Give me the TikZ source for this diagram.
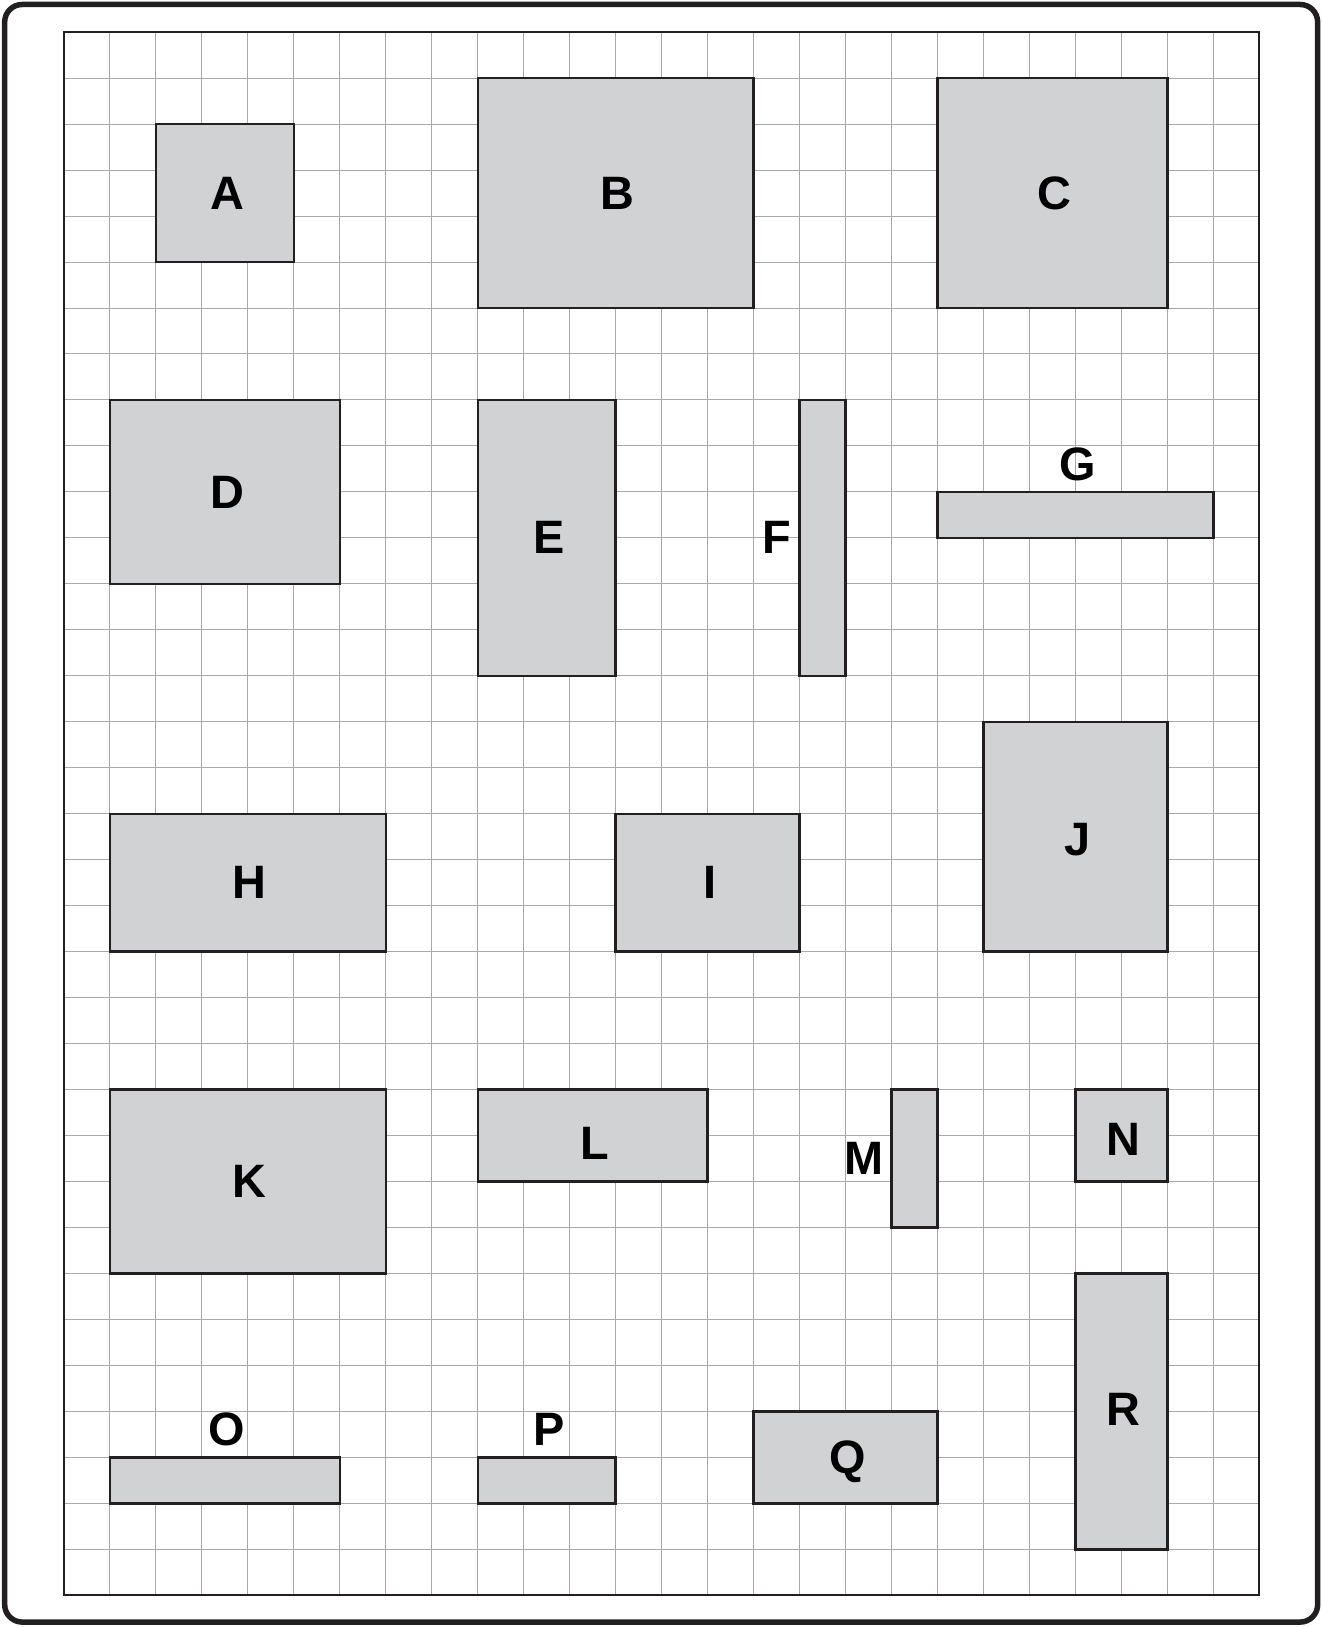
\documentclass[tikz,border=0pt]{standalone}
\usepackage{fontspec}
\setmainfont{Liberation Sans}
\definecolor{boxfill}{HTML}{D1D2D4}
\definecolor{inkc}{HTML}{231F20}
\definecolor{gridc}{HTML}{A7A9AC}
\tikzset{
  box/.style={draw=inkc, fill=boxfill, line width=1.5pt},
  lbl/.style={font=\bfseries\fontsize{29}{29}\selectfont, inner sep=0pt, text=black, xshift=0.045cm},
  gridline/.style={draw=gridc, line width=0.6pt},
  frame/.style={draw=inkc, line width=1.4pt},
  outer/.style={draw=inkc, line width=3.4pt, rounded corners=0.38cm}
}
\begin{document}
\begin{tikzpicture}
\useasboundingbox (-1.391,-0.69) rectangle (27.363,34.70);
\draw[outer] (-1.289,-0.583) rectangle (27.27,34.602);
\draw[gridline] (0,0) grid (26,34);
\draw[frame] (0,0) rectangle (26,34);
% boxes
\draw[box] (2,29) rectangle (5,32);
\draw[box] (9,28) rectangle (15,33);
\draw[box] (19,28) rectangle (24,33);
\draw[box] (1,22) rectangle (6,26);
\draw[box] (9,20) rectangle (12,26);
\draw[box] (16,20) rectangle (17,26);
\draw[box] (19,23) rectangle (25,24);
\draw[box] (1,14) rectangle (7,17);
\draw[box] (12,14) rectangle (16,17);
\draw[box] (20,14) rectangle (24,19);
\draw[box] (1,7) rectangle (7,11);
\draw[box] (9,9) rectangle (14,11);
\draw[box] (18,8) rectangle (19,11);
\draw[box] (22,9) rectangle (24,11);
\draw[box] (1,2) rectangle (6,3);
\draw[box] (9,2) rectangle (12,3);
\draw[box] (15,2) rectangle (19,4);
\draw[box] (22,1) rectangle (24,7);
% labels
\node[lbl] (A) at (3.5,30.5) {A};
\node[lbl] (B) at (12,30.5) {B};
\node[lbl] (C) at (21.5,30.5) {C};
\node[lbl] (D) at (3.5,24) {D};
\node[lbl] (E) at (10.5,23) {E};
\node[lbl] (F) at (15.45,23) {F};
\node[lbl] (G) at (22,24.6) {G};
\node[lbl] (H) at (4,15.5) {H};
\node[lbl] (I) at (14,15.5) {I};
\node[lbl] (J) at (22,16.43) {J};
\node[lbl] (K) at (4,9) {K};
\node[lbl] (L) at (11.5,9.84) {L};
\node[lbl] (M) at (17.35,9.5) {M};
\node[lbl] (N) at (23,9.91) {N};
\node[lbl] (O) at (3.5,3.6) {O};
\node[lbl] (P) at (10.5,3.6) {P};
\node[lbl] (Q) at (17,2.9) {Q};
\node[lbl] (R) at (23,4.05) {R};
\end{tikzpicture}
\end{document}
